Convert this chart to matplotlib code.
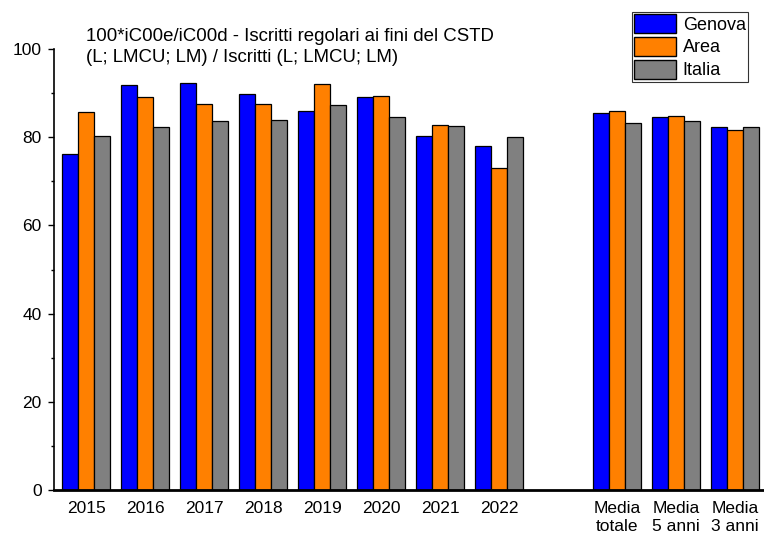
import matplotlib
matplotlib.use("Agg")
import matplotlib.pyplot as plt
import numpy as np
from matplotlib.patches import Patch

plt.rcParams['font.family'] = ['Liberation Sans', 'DejaVu Sans']

categories = ["2015", "2016", "2017", "2018", "2019", "2020", "2021", "2022",
              "Media\ntotale", "Media\n5 anni", "Media\n3 anni"]
positions = [0, 1, 2, 3, 4, 5, 6, 7, 9, 10, 11]
genova = [76.3, 91.9, 92.2, 89.9, 85.9, 89.1, 80.2, 77.9, 85.4, 84.6, 82.4]
area = [85.8, 89.2, 87.5, 87.6, 92.1, 89.3, 82.7, 73.0, 85.9, 84.9, 81.7]
italia = [80.3, 82.4, 83.6, 83.9, 87.4, 84.5, 82.5, 80.1, 83.2, 83.7, 82.4]
series_names = ["Genova", "Area", "Italia"]
colors = ["#0000FF", "#FF8000", "#808080"]
title = "100*iC00e/iC00d - Iscritti regolari ai fini del CSTD\n(L; LMCU; LM) / Iscritti (L; LMCU; LM)"

fig = plt.figure(figsize=(7.64, 5.40), dpi=100)
ax = fig.add_axes([0.071, 0.0926, 0.929, 0.8166])

w = 0.27
x = np.array(positions, dtype=float)
for i, (vals, c) in enumerate(zip([genova, area, italia], colors)):
    ax.bar(x + (i - 1) * w, vals, width=w, color=c, edgecolor="black", linewidth=0.9)

ax.set_xlim(-0.54, 11.49)
ax.set_ylim(0, 100)
ax.set_xticks(positions)
ax.set_xticklabels(categories, fontsize=12.5, linespacing=1.25)
ax.tick_params(axis='x', length=0, pad=8)
ax.set_yticks([0, 20, 40, 60, 80, 100])
ax.set_yticks([10, 30, 50, 70, 90], minor=True)
ax.tick_params(axis='y', which='major', length=4, width=1, labelsize=12.5, direction='out', pad=5)
ax.tick_params(axis='y', which='minor', length=2, width=1, direction='out')
for s in ['top', 'right']:
    ax.spines[s].set_visible(False)
ax.spines['left'].set_linewidth(1.2)
ax.spines['bottom'].set_linewidth(2.0)

fig.text(86 / 764, 1 - 47 / 540, title, fontsize=13.4, va='center', ha='left', linespacing=1.3)

handles = [Patch(facecolor=c, edgecolor='black', linewidth=1) for c in colors]
leg = fig.legend(handles, series_names, loc='upper right', bbox_to_anchor=(748 / 764, 1 - 12 / 540),
                 fontsize=13, frameon=True, fancybox=False, edgecolor='black',
                 handlelength=2.3, handleheight=1.2, handletextpad=0.4, borderpad=0.12,
                 labelspacing=0.2, borderaxespad=0)
leg.get_frame().set_linewidth(0.8)

fig.savefig("out.png", dpi=100)
